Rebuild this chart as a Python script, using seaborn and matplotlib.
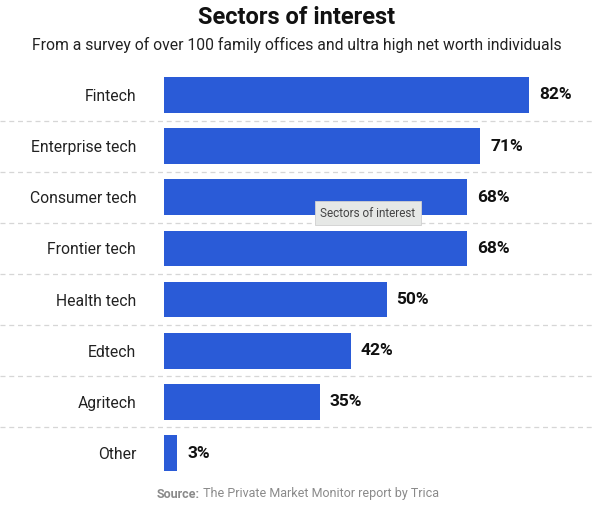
import matplotlib
matplotlib.use("Agg")
import matplotlib.pyplot as plt
import matplotlib.transforms as mtransforms
from matplotlib import font_manager
import seaborn as sns
import pandas as pd

sectors = ["Fintech", "Enterprise tech", "Consumer tech", "Frontier tech",
           "Health tech", "Edtech", "Agritech", "Other"]
shares = [82, 71, 68, 68, 50, 42, 35, 3]
value_labels = ["82%", "71%", "68%", "68%", "50%", "42%", "35%", "3%"]

title = "Sectors of interest"
subtitle = "From a survey of over 100 family offices and ultra high net worth individuals"
source_bold = "Source:"
source_rest = " The Private Market Monitor report by Trica"
tooltip = "Sectors of interest"

df = pd.DataFrame({"sector": sectors, "share": shares})

sns.set_theme(style="white")
plt.rcParams["font.family"] = ["Roboto", "DejaVu Sans"]

# narrow font for the source line, if one is around
installed = {f.name for f in font_manager.fontManager.ttflist}
narrow = [n for n in ["Liberation Sans Narrow", "DejaVu Sans Condensed"] if n in installed]
src_family = narrow[:1] + ["Roboto", "DejaVu Sans"]
src_size = 10 if narrow else 9

fig = plt.figure(figsize=(6.01, 5.15), dpi=100)
ax = fig.add_axes([164 / 601, 1 - 478.6 / 515, 401 / 601, 409.2 / 515])

sns.barplot(data=df, x="share", y="sector", color="#2a5bd7", saturation=1,
            width=0.70, ax=ax, orient="h", linewidth=0)

ax.set_xlim(0, 90)
ax.set_ylim(len(sectors) - 0.5, -0.5)
ax.set_xticks([])
ax.set_xlabel("")
ax.set_ylabel("")
for s in ax.spines.values():
    s.set_visible(False)
ax.tick_params(axis="y", length=0, pad=20, labelsize=11.3, labelcolor="#222222")

for i, (v, lab) in enumerate(zip(shares, value_labels)):
    ax.annotate(lab, (v, i), xytext=(7, 0), textcoords="offset points",
                va="center", ha="left", fontsize=12.5, fontweight="bold",
                color="#111111")

# dashed separators between rows
trans = mtransforms.blended_transform_factory(fig.transFigure, ax.transData)
for i in range(len(sectors) - 1):
    ax.plot([0.0, 0.99], [i + 0.5, i + 0.5], transform=trans, clip_on=False,
            color="#d6d6d6", linestyle=(0, (4, 3)), linewidth=0.9, zorder=0)

fig.text(297 / 601, 1 - 18 / 515, title, ha="center", va="center",
         fontsize=17, fontweight="bold", color="#111111")
fig.text(297 / 601, 1 - 45 / 515, subtitle, ha="center", va="center",
         fontsize=11.3, color="#222222")

# tooltip box
fig.text(368 / 601, 1 - 213 / 515, tooltip, ha="center", va="center",
         fontsize=8.5, color="#444444",
         bbox=dict(boxstyle="square,pad=0.45", fc="#e6e8e6", ec="#d0d0d0", lw=0.6))

t1 = fig.text(157 / 601, 1 - 494 / 515, source_bold, ha="left", va="center",
              fontsize=src_size, fontweight="bold", color="#8a8a8a",
              family=src_family)
fig.canvas.draw()
bb = t1.get_window_extent()
fig.text(bb.x1 / 601, 1 - 494 / 515, source_rest, ha="left", va="center",
         fontsize=src_size, color="#8a8a8a", family=src_family)

fig.savefig("out.png", dpi=100)
